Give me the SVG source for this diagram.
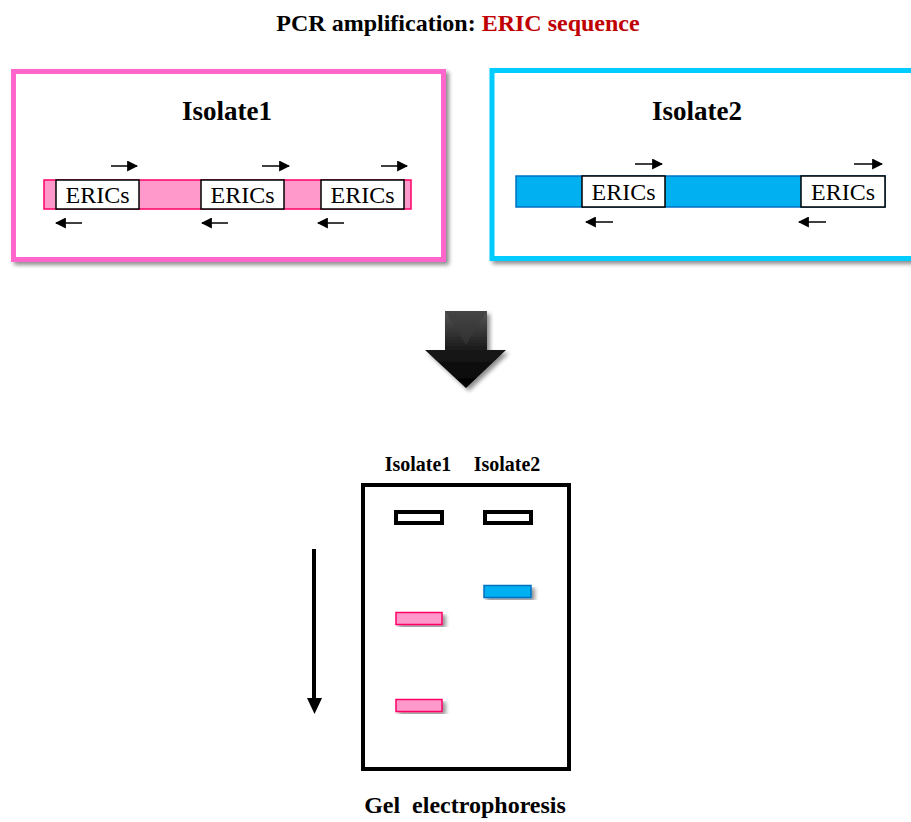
<svg xmlns="http://www.w3.org/2000/svg" width="911" height="822" viewBox="0 0 911 822">
<defs>
<style>
.t{font-family:"Liberation Serif","Times New Roman",serif;}
.b{font-weight:bold;}
.eric{fill:#fff;stroke:#000;stroke-width:1.5;}
.er{font-size:24px;text-anchor:middle;}
.pr{stroke:#000;stroke-width:1.5;fill:none;}
</style>
<marker id="ah" viewBox="0 0 10 10" refX="9" refY="5" markerWidth="11" markerHeight="11" markerUnits="userSpaceOnUse" orient="auto">
<path d="M0,0 L10,5 L0,10 Z" fill="#000"/>
</marker>
<filter id="sh" x="-10%" y="-10%" width="130%" height="130%">
<feGaussianBlur in="SourceAlpha" stdDeviation="2"/>
<feOffset dx="3" dy="3" result="o"/>
<feComponentTransfer><feFuncA type="linear" slope="0.45"/></feComponentTransfer>
<feMerge><feMergeNode/><feMergeNode in="SourceGraphic"/></feMerge>
</filter>
<linearGradient id="ag" x1="0" y1="0" x2="0" y2="1">
<stop offset="0" stop-color="#555"/>
<stop offset="0.5" stop-color="#1a1a1a"/>
<stop offset="1" stop-color="#000"/>
</linearGradient>
</defs>
<rect width="911" height="822" fill="#fff"/>

<text class="t b" x="458" y="31" font-size="24" text-anchor="middle">PCR amplification: <tspan fill="#c00000">ERIC sequence</tspan></text>

<g id="isolate1">
<rect x="13.5" y="71.5" width="430" height="188" fill="#fff" stroke="#ff66cc" stroke-width="5" filter="url(#sh)"/>
<text class="t b" x="227" y="120" font-size="27" text-anchor="middle">Isolate1</text>
<rect x="44" y="180" width="367" height="29" fill="#ff99cc" stroke="#ff0066" stroke-width="1.5"/>
<rect class="eric" x="56" y="180" width="83" height="29"/>
<rect class="eric" x="201" y="180" width="83" height="29"/>
<rect class="eric" x="321" y="180" width="83" height="29"/>
<text class="t er" x="97.5" y="203">ERICs</text>
<text class="t er" x="242.5" y="203">ERICs</text>
<text class="t er" x="362.5" y="203">ERICs</text>
<line class="pr" x1="111" y1="166" x2="137" y2="166" marker-end="url(#ah)"/>
<line class="pr" x1="262" y1="166" x2="289" y2="166" marker-end="url(#ah)"/>
<line class="pr" x1="381" y1="166" x2="407" y2="166" marker-end="url(#ah)"/>
<line class="pr" x1="82" y1="223" x2="56" y2="223" marker-end="url(#ah)"/>
<line class="pr" x1="228" y1="223" x2="202" y2="223" marker-end="url(#ah)"/>
<line class="pr" x1="344" y1="223" x2="318" y2="223" marker-end="url(#ah)"/>
</g>

<g id="isolate2">
<rect x="492" y="70.5" width="430" height="188" fill="#fff" stroke="#00ccff" stroke-width="5" filter="url(#sh)"/>
<text class="t b" x="697" y="120" font-size="27" text-anchor="middle">Isolate2</text>
<rect x="516" y="176" width="369" height="31" fill="#00b0f0" stroke="#0070c0" stroke-width="1.5"/>
<rect class="eric" x="582" y="176" width="83" height="31"/>
<rect class="eric" x="801" y="176" width="84" height="31"/>
<text class="t er" x="623.5" y="200">ERICs</text>
<text class="t er" x="843" y="200">ERICs</text>
<line class="pr" x1="635" y1="164" x2="662" y2="164" marker-end="url(#ah)"/>
<line class="pr" x1="854" y1="164" x2="882" y2="164" marker-end="url(#ah)"/>
<line class="pr" x1="613" y1="222" x2="586" y2="222" marker-end="url(#ah)"/>
<line class="pr" x1="826" y1="222" x2="799" y2="222" marker-end="url(#ah)"/>
</g>

<g id="connectors">
<path d="M445,311 L487,311 L487,350 L506,350 L466,388 L425,350 L445,350 Z" fill="url(#ag)" filter="url(#sh)"/>
<path d="M445,311 L487,311 L466,345 Z" fill="#3a3a3a" opacity="0.6"/>
</g>

<g id="gel">
<text class="t b" x="418" y="471" font-size="20" text-anchor="middle">Isolate1</text>
<text class="t b" x="507" y="471" font-size="20" text-anchor="middle">Isolate2</text>
<rect x="363" y="485" width="206" height="284" fill="#fff" stroke="#000" stroke-width="4"/>
<rect x="396" y="512" width="46" height="11" fill="#fff" stroke="#000" stroke-width="4"/>
<rect x="485" y="512" width="46" height="11" fill="#fff" stroke="#000" stroke-width="4"/>
<rect x="484" y="585.5" width="47" height="12" fill="#00b0f0" stroke="#0070c0" stroke-width="1.5" filter="url(#sh)"/>
<rect x="396" y="612.5" width="46" height="12" fill="#ff99cc" stroke="#ff0066" stroke-width="1.5" filter="url(#sh)"/>
<rect x="396" y="699.5" width="46" height="12" fill="#ff99cc" stroke="#ff0066" stroke-width="1.5" filter="url(#sh)"/>
<line x1="314" y1="549" x2="314" y2="700" stroke="#000" stroke-width="4"/>
<path d="M307,698 L322,698 L314.5,714 Z" fill="#000"/>
<text class="t b" x="465" y="813" font-size="24" text-anchor="middle" xml:space="preserve">Gel  electrophoresis</text>
</g>
</svg>
